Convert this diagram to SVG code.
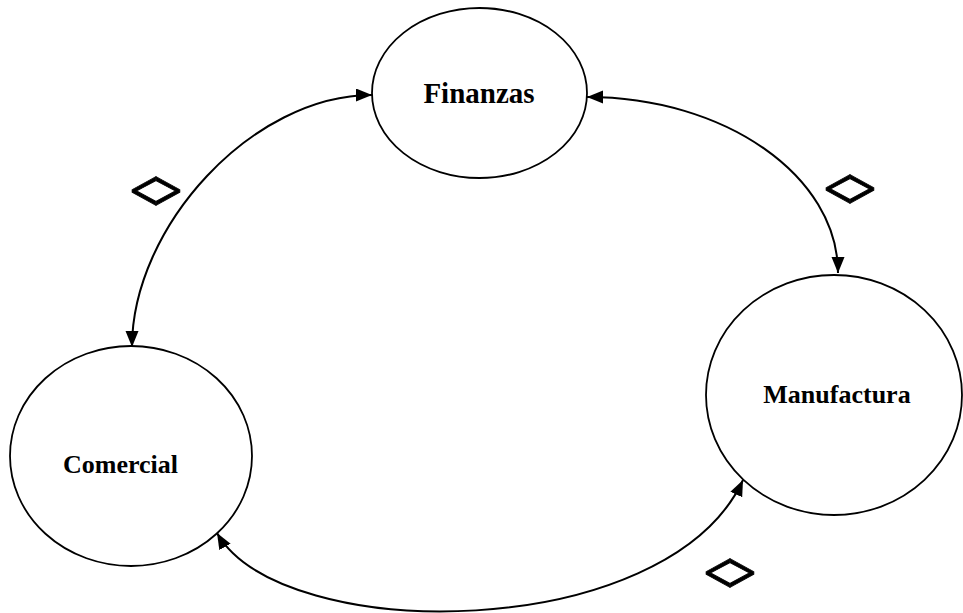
<svg xmlns="http://www.w3.org/2000/svg" width="963" height="613" viewBox="0 0 963 613">
  <style>
    .node { fill: #ffffff; stroke: #000000; stroke-width: 1.8; }
    .label { font-family: "Liberation Serif", "Times New Roman", serif; font-weight: bold; fill: #000000; text-anchor: middle; }
    .link { fill: none; stroke: #000000; stroke-width: 2; marker-start: url(#tip); marker-end: url(#tip); }
    .swap { font-family: "Liberation Serif", "Times New Roman", serif; font-weight: bold; font-size: 40px; fill: #000000; stroke: #000000; stroke-width: 0.6; stroke-linejoin: miter; text-anchor: middle; letter-spacing: -4px; }
  </style>
  <defs>
    <marker id="tip" markerUnits="userSpaceOnUse" markerWidth="17" markerHeight="14" refX="16" refY="6.5" orient="auto-start-reverse">
      <path d="M0,0 L16,6.5 L0,13 z" fill="#000000"/>
    </marker>
  </defs>
  <rect width="963" height="613" fill="#ffffff"/>

  <!-- two-way flows between the three areas -->
  <g id="connectors">
    <path class="link" d="M132,347 C132,227 252,95 372,95"/>
    <path class="link" d="M587,97 C725,97 838,176 838,273"/>
    <path class="link" d="M217,533 C282,646 667,644 743,480"/>
  </g>

  <g id="finanzas">
    <ellipse class="node" cx="479.5" cy="93" rx="107.5" ry="85"/>
    <text class="label" x="479" y="103" font-size="29">Finanzas</text>
  </g>

  <g id="manufactura">
    <ellipse class="node" cx="834" cy="395" rx="128" ry="120"/>
    <text class="label" x="837" y="403" font-size="26">Manufactura</text>
  </g>

  <g id="comercial">
    <ellipse class="node" cx="131" cy="456" rx="121" ry="110"/>
    <text class="label" x="120.5" y="473" font-size="26">Comercial</text>
  </g>

  <!-- exchange marks beside each flow, stretched into a wide diamond -->
  <g id="marks">
    <text class="swap" transform="translate(151,192) scale(1.28,1.4)" x="2" y="12.8">&lt;&gt;</text>
    <text class="swap" transform="translate(845,190) scale(1.28,1.4)" x="2" y="12.8">&lt;&gt;</text>
    <text class="swap" transform="translate(725,574) scale(1.28,1.4)" x="2" y="12.8">&lt;&gt;</text>
  </g>
</svg>
